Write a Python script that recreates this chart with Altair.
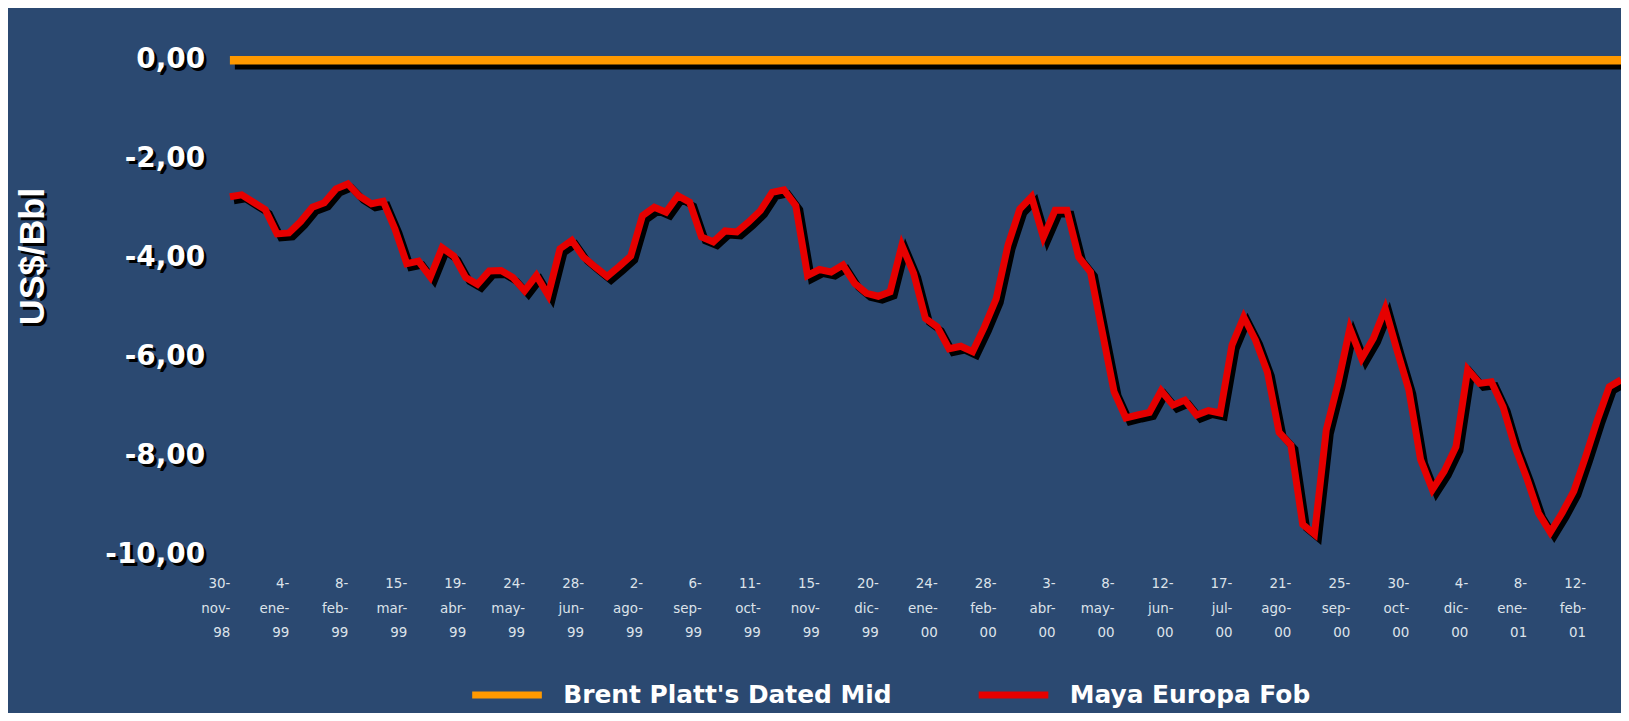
import json
import altair as alt
import pandas as pd

# ---- data (weekly, starting 30-nov-98) ----
semanas = list(range(119))
maya = [
    -2.76, -2.72, -2.87, -3.02, -3.51, -3.49, -3.26, -2.97, -2.88, -2.60,
    -2.50, -2.75, -2.90, -2.85, -3.41, -4.11, -4.06, -4.38, -3.79, -3.96,
    -4.39, -4.53, -4.26, -4.25, -4.39, -4.66, -4.35, -4.75, -3.81, -3.64,
    -3.98, -4.18, -4.37, -4.17, -3.96, -3.14, -2.97, -3.07, -2.74, -2.87,
    -3.57, -3.67, -3.45, -3.47, -3.27, -3.04, -2.67, -2.62, -2.94, -4.35,
    -4.23, -4.28, -4.14, -4.51, -4.71, -4.77, -4.68, -3.74, -4.31, -5.22,
    -5.39, -5.83, -5.78, -5.89, -5.39, -4.82, -3.74, -3.01, -2.76, -3.58,
    -3.03, -3.03, -3.98, -4.28, -5.49, -6.70, -7.23, -7.17, -7.12, -6.68,
    -6.97, -6.87, -7.17, -7.08, -7.13, -5.76, -5.19, -5.66, -6.30, -7.52,
    -7.78, -9.38, -9.58, -7.47, -6.53, -5.42, -6.03, -5.62, -5.02, -5.86,
    -6.66, -8.07, -8.68, -8.31, -7.81, -6.25, -6.53, -6.50, -7.01, -7.81,
    -8.44, -9.15, -9.54, -9.15, -8.71, -8.01, -7.27, -6.60, -6.46,
]
brent = [0.0] * len(maya)  # Brent is the reference: differential is 0

serie_brent = "Brent Platt's Dated Mid"
serie_maya = "Maya Europa  Fob"

tick_semanas = [0, 5, 10, 15, 20, 25, 30, 35, 40, 45, 50, 55,
                60, 65, 70, 75, 80, 85, 90, 95, 100, 105, 110, 115]
tick_labels = ["30-nov-98", "4-ene-99", "8-feb-99", "15-mar-99", "19-abr-99",
               "24-may-99", "28-jun-99", "2-ago-99", "6-sep-99", "11-oct-99",
               "15-nov-99", "20-dic-99", "24-ene-00", "28-feb-00", "3-abr-00",
               "8-may-00", "12-jun-00", "17-jul-00", "21-ago-00", "25-sep-00",
               "30-oct-00", "4-dic-00", "8-ene-01", "12-feb-01"]

y_ticks = [0, -2, -4, -6, -8, -10]
y_labels = ["0,00", "-2,00", "-4,00", "-6,00", "-8,00", "-10,00"]

# ---- tables ----
df = pd.concat([
    pd.DataFrame({"semana": semanas, "valor": brent, "serie": serie_brent}),
    pd.DataFrame({"semana": semanas, "valor": maya, "serie": serie_maya}),
], ignore_index=True)
ylab_df = pd.DataFrame({"valor": y_ticks, "etiqueta": y_labels})
title_df = pd.DataFrame({"t": ["US$/Bbl"]})

parts = []
for lab in tick_labels:
    a, b, c = lab.split("-")
    parts.append([a + "-", b + "-", c])
label_expr = json.dumps(parts) + "[round(datum.value / 5)]"

BG = "#2b4971"
GRID = "#22c1a4"
ORANGE = "#ff9900"
RED = "#e60000"
NARROW = "'Liberation Sans Narrow', 'DejaVu Sans Condensed', sans-serif"

xscale = alt.Scale(domain=[0, 118], nice=False, zero=False)
yscale = alt.Scale(domain=[-10, 1], nice=False, zero=False)

x_enc = alt.X(
    "semana:Q", scale=xscale,
    axis=alt.Axis(values=tick_semanas, labelExpr=label_expr, domain=False,
                  ticks=False, tickSize=0, grid=False, title=None,
                  labelAlign="right", labelBaseline="top", labelPadding=21,
                  labelLineHeight=24.5, labelFont=NARROW, labelFontSize=15,
                  labelColor="#dde3ea", labelOverlap=False, labelFlush=False),
)
y_enc = alt.Y(
    "valor:Q", scale=yscale,
    axis=alt.Axis(values=y_ticks, labels=False, title=None, domainColor="black",
                  domainWidth=1, tickColor="black", tickSize=8, tickWidth=1,
                  grid=True, gridColor=GRID, gridDash=[3, 3], gridWidth=1.3),
)
color_enc = alt.Color(
    "serie:N",
    scale=alt.Scale(domain=[serie_brent, serie_maya], range=[ORANGE, RED]),
    legend=alt.Legend(orient="none", legendX=240, legendY=649,
                      direction="horizontal", title=None, symbolType="stroke",
                      symbolSize=4900, symbolStrokeWidth=7, labelFont="DejaVu Sans",
                      labelFontSize=25, labelFontWeight="bold", labelColor="white",
                      labelOffset=18, columnPadding=72, labelLimit=700, padding=0,
                      labelBaseline="middle"),
)

base = alt.Chart(df)
f_brent = alt.FieldEqualPredicate(field="serie", equal=serie_brent)
f_maya = alt.FieldEqualPredicate(field="serie", equal=serie_maya)

brent_shadow = base.transform_filter(f_brent).mark_line(
    color="black", strokeWidth=8.5, xOffset=5, yOffset=5, strokeCap="butt"
).encode(x=x_enc, y=y_enc)
brent_line = base.transform_filter(f_brent).mark_line(
    strokeWidth=8.5, strokeCap="butt"
).encode(x=x_enc, y=y_enc, color=color_enc)
maya_shadow = base.transform_filter(f_maya).mark_line(
    color="black", strokeWidth=7, xOffset=4, yOffset=4, strokeJoin="miter"
).encode(x=x_enc, y=y_enc)
maya_line = base.transform_filter(f_maya).mark_line(
    strokeWidth=7, strokeJoin="miter"
).encode(x=x_enc, y=y_enc, color=color_enc)

ylab_y = alt.Y("valor:Q", scale=yscale, axis=None)
ylab_shadow = alt.Chart(ylab_df).mark_text(
    align="right", baseline="middle", font="DejaVu Sans", fontSize=28,
    fontWeight="bold", color="black", dx=3, dy=3
).encode(x=alt.value(-25), y=ylab_y, text="etiqueta:N")
ylab_text = alt.Chart(ylab_df).mark_text(
    align="right", baseline="middle", font="DejaVu Sans", fontSize=28,
    fontWeight="bold", color="white"
).encode(x=alt.value(-25), y=ylab_y, text="etiqueta:N")

title_shadow = alt.Chart(title_df).mark_text(
    angle=270, align="center", baseline="middle", font="Liberation Sans",
    fontSize=36, fontWeight="bold", color="black"
).encode(x=alt.value(-195), y=alt.value(250), text="t:N")
title_text = alt.Chart(title_df).mark_text(
    angle=270, align="center", baseline="middle", font="Liberation Sans",
    fontSize=36, fontWeight="bold", color="white"
).encode(x=alt.value(-198), y=alt.value(247), text="t:N")

chart = alt.layer(
    brent_shadow, brent_line, maya_shadow, maya_line,
    ylab_shadow, ylab_text, title_shadow, title_text,
).properties(
    width=1398, height=547, background=BG,
    padding={"left": 223, "top": 1, "right": 0, "bottom": 157},
    autosize=alt.AutoSizeParams(type="none"),
).configure_view(strokeWidth=0)

chart.save("out.html", embed_options={"renderer": "svg", "actions": False})
